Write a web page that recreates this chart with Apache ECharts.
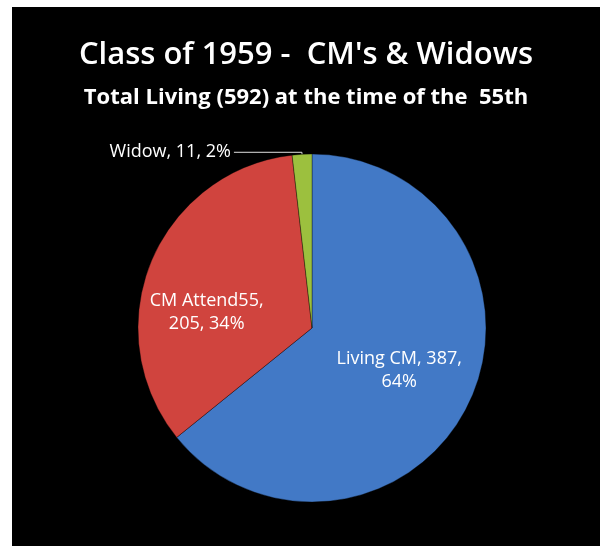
<!DOCTYPE html>
<html>
<head>
<meta charset="utf-8">
<script src="https://cdn.jsdelivr.net/npm/echarts@6/dist/echarts.min.js"></script>
<style>
  html, body { margin: 0; padding: 0; background: #ffffff; }
  #chart { position: absolute; left: 12px; top: 7px; width: 588px; height: 539px; }
</style>
</head>
<body>
<div id="chart"></div>
<script>
  const categories = ["Living CM", "CM Attend55", "Widow"];
  const values = [387, 205, 11];
  const percents = [64, 34, 2];
  const colors = ["#4279c6", "#d0443e", "#9cc03e"];

  const chart = echarts.init(document.getElementById("chart"));

  const options = {
    backgroundColor: "#000000",
    title: {
      text: "Class of 1959 -  CM's & Widows",
      subtext: "Total Living (592) at the time of the  55th",
      left: "center",
      top: 28,
      itemGap: 16,
      textStyle: { color: "#ffffff", fontFamily: "Open Sans", fontWeight: 600, fontSize: 31 },
      subtextStyle: { color: "#ffffff", fontFamily: "Open Sans", fontWeight: "bold", fontSize: 22 },
    },
    series: [
      {
        type: "pie",
        center: [300, 321],
        radius: 174,
        startAngle: 90,
        clockwise: true,
        itemStyle: { borderColor: "rgba(0,0,0,0.35)", borderWidth: 1 },
        label: {
          color: "#ffffff",
          fontFamily: "Open Sans",
          fontSize: 18,
          lineHeight: 23,
          align: "center",
        },
        labelLine: { lineStyle: { color: "#e0e0e0", width: 1 } },
        labelLayout: (params) => {
          // nudge the inside labels to where Excel put them
          if (params.dataIndex === 1) return { dx: -22, dy: 18 };
          if (params.dataIndex === 0) return { dx: 6, dy: 4 };
          return {};
        },
        data: categories.map((name, i) => ({
          name,
          value: values[i],
          itemStyle: { color: colors[i] },
          label: i === 2
            ? { position: "outside", formatter: `${name}, ${values[i]}, ${percents[i]}%`, distanceToLabelLine: 3 }
            : { position: "inside", formatter: i === 0 ? `${name}, ${values[i]},\n${percents[i]}%` : `${name},\n${values[i]}, ${percents[i]}%` },
          labelLine: i === 2 ? { show: true, length: 2, length2: 68 } : { show: false },
        })),
      },
    ],
  };

  chart.setOption(options);
</script>
</body>
</html>
